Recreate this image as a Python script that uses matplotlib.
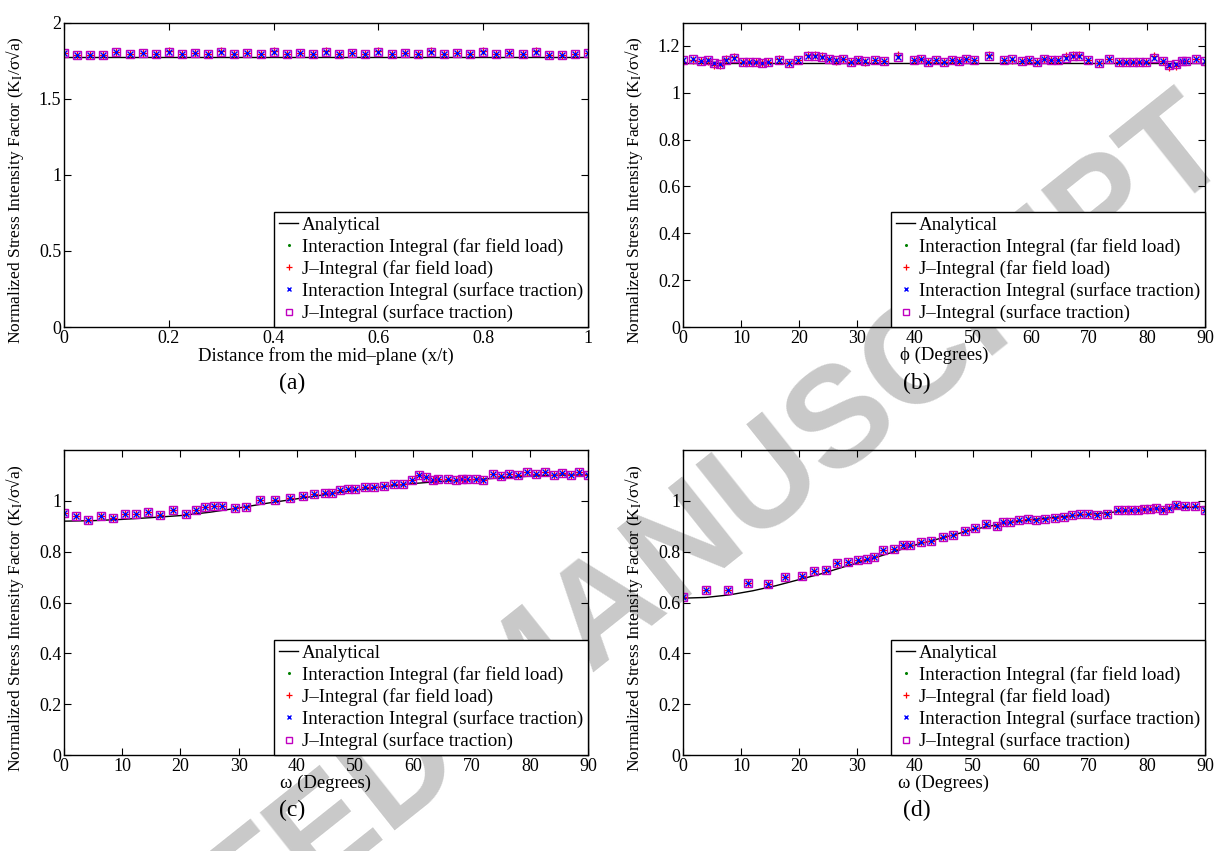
import numpy as np
import matplotlib
matplotlib.use("Agg")
import matplotlib.pyplot as plt

plt.rcParams["font.family"] = ["Liberation Serif", "DejaVu Serif"]
plt.rcParams["mathtext.fontset"] = "stix"
plt.rcParams["axes.unicode_minus"] = False

# ---- (a) K along the crack front, x/t ----
xa = [0.0, 0.025, 0.05, 0.075, 0.1, 0.125, 0.15, 0.175, 0.2, 0.225, 0.25, 0.275, 0.3, 0.325,
      0.35, 0.375, 0.4, 0.425, 0.45, 0.475, 0.5, 0.525, 0.55, 0.575, 0.6, 0.625, 0.65, 0.675,
      0.7, 0.725, 0.75, 0.775, 0.8, 0.825, 0.85, 0.875, 0.9, 0.925, 0.95, 0.975, 1.0]
ka_ii = [1.800, 1.787, 1.785, 1.787, 1.805, 1.794, 1.800, 1.796, 1.805, 1.790, 1.798,
         1.792, 1.807, 1.796, 1.800, 1.796, 1.805, 1.792, 1.800, 1.792, 1.805, 1.796,
         1.798, 1.794, 1.805, 1.792, 1.798, 1.796, 1.805, 1.792, 1.798, 1.792, 1.807,
         1.796, 1.798, 1.796, 1.805, 1.787, 1.785, 1.790, 1.800]
ka_j = [1.802, 1.787, 1.785, 1.787, 1.808, 1.794, 1.800, 1.796, 1.810, 1.790, 1.798,
        1.792, 1.810, 1.796, 1.800, 1.796, 1.810, 1.792, 1.800, 1.792, 1.810, 1.796,
        1.798, 1.794, 1.810, 1.792, 1.798, 1.796, 1.810, 1.792, 1.798, 1.792, 1.810,
        1.796, 1.798, 1.796, 1.810, 1.787, 1.785, 1.790, 1.802]
xa_an = [0.0, 1.0]
ka_an = [1.776, 1.776]

# ---- (b) phi ----
xb = [0, 1.65, 3.15, 4.3, 5.3, 6.3, 7.4, 8.8, 10.3, 11.4, 12.6, 13.7, 14.7, 16.5, 18.2, 19.9,
      21.6, 22.8, 24.0, 25.2, 26.4, 27.6, 28.9, 30.2, 31.4, 33.1, 34.6, 37.0, 39.8, 41.1, 42.3,
      43.7, 45.0, 46.3, 47.6, 48.8, 50.1, 52.8, 55.3, 56.8, 58.4, 59.7, 61.0, 62.2, 63.5, 64.7,
      66.0, 67.2, 68.3, 69.9, 71.7, 73.4, 75.2, 76.4, 77.5, 78.7, 79.8, 81.2, 82.7, 83.8, 85.0,
      86.0, 86.8, 88.4, 90.0]
kb_ii = [1.138, 1.143, 1.136, 1.138, 1.128, 1.123, 1.140, 1.150, 1.130, 1.132, 1.132, 1.129,
         1.130, 1.142, 1.128, 1.139, 1.156, 1.159, 1.153, 1.143, 1.139, 1.143, 1.132, 1.138,
         1.136, 1.142, 1.136, 1.153, 1.139, 1.146, 1.133, 1.142, 1.132, 1.142, 1.135, 1.145,
         1.139, 1.155, 1.138, 1.145, 1.135, 1.139, 1.133, 1.143, 1.138, 1.142, 1.150, 1.157,
         1.155, 1.139, 1.128, 1.143, 1.132, 1.130, 1.131, 1.131, 1.131, 1.150, 1.136, 1.119,
         1.122, 1.136, 1.137, 1.143, 1.136]
kb_j = [1.130, 1.140, 1.136, 1.135, 1.118, 1.120, 1.145, 1.152, 1.130, 1.132, 1.130, 1.129,
        1.130, 1.145, 1.128, 1.139, 1.162, 1.160, 1.155, 1.143, 1.136, 1.143, 1.132, 1.138,
        1.130, 1.142, 1.136, 1.160, 1.139, 1.146, 1.133, 1.142, 1.130, 1.142, 1.135, 1.145,
        1.139, 1.162, 1.138, 1.140, 1.135, 1.139, 1.133, 1.143, 1.138, 1.142, 1.155, 1.162,
        1.160, 1.139, 1.125, 1.143, 1.132, 1.130, 1.131, 1.131, 1.131, 1.155, 1.136, 1.112,
        1.115, 1.136, 1.137, 1.143, 1.128]
xb_an = [0, 90]
kb_an = [1.129, 1.129]

# ---- (c) omega ----
xc = [0, 2.05, 4.2, 6.3, 8.5, 10.4, 12.3, 14.4, 16.5, 18.7, 21.0, 22.6, 24.2, 25.7, 27.2,
      29.3, 31.3, 33.7, 36.3, 38.8, 41.1, 43.0, 44.9, 46.1, 47.4, 48.7, 49.9, 51.7, 53.3,
      55.0, 56.6, 58.3, 59.8, 60.9, 62.1, 63.3, 64.3, 65.9, 67.3, 68.3, 69.3, 70.7, 72.0,
      73.6, 75.1, 76.5, 78.0, 79.5, 81.1, 82.6, 84.1, 85.6, 87.0, 88.4, 90]
kc = [0.953, 0.939, 0.925, 0.939, 0.934, 0.950, 0.949, 0.956, 0.946, 0.965, 0.949, 0.962,
      0.976, 0.979, 0.979, 0.972, 0.977, 1.002, 1.002, 1.012, 1.020, 1.027, 1.029, 1.030,
      1.042, 1.046, 1.046, 1.056, 1.054, 1.059, 1.065, 1.067, 1.082, 1.101, 1.094, 1.081,
      1.085, 1.085, 1.082, 1.086, 1.085, 1.085, 1.082, 1.106, 1.099, 1.105, 1.102, 1.114,
      1.106, 1.112, 1.101, 1.108, 1.103, 1.112, 1.102]
xc_an = [0, 5, 10, 15, 20, 25, 30, 35, 40, 45, 50, 55, 60, 65, 70, 75, 80, 85, 90]
kc_an = [0.920, 0.922, 0.927, 0.934, 0.942, 0.955, 0.972, 0.991, 1.008, 1.025, 1.042,
         1.056, 1.068, 1.077, 1.083, 1.090, 1.097, 1.101, 1.102]

# ---- (d) omega ----
xd = [0, 4.0, 7.8, 11.2, 14.6, 17.6, 20.6, 22.6, 24.6, 26.6, 28.4, 30.1, 31.7, 33.0, 34.5,
      36.3, 37.9, 39.2, 41.0, 42.8, 44.8, 46.6, 48.6, 50.4, 52.3, 54.1, 55.1, 56.3, 58.0,
      59.4, 60.9, 62.4, 64.2, 65.7, 67.0, 68.5, 69.8, 71.3, 73.1, 75.0, 76.2, 77.2, 78.4,
      79.5, 80.6, 81.6, 82.8, 83.8, 85.0, 86.6, 88.3, 90]
kd = [0.620, 0.650, 0.650, 0.676, 0.674, 0.700, 0.704, 0.724, 0.729, 0.755, 0.758, 0.768,
      0.771, 0.779, 0.805, 0.810, 0.826, 0.827, 0.838, 0.843, 0.858, 0.867, 0.882, 0.893,
      0.908, 0.902, 0.918, 0.918, 0.923, 0.928, 0.925, 0.929, 0.933, 0.937, 0.944, 0.948,
      0.949, 0.946, 0.950, 0.962, 0.963, 0.963, 0.963, 0.967, 0.966, 0.970, 0.965, 0.973,
      0.983, 0.979, 0.979, 0.963]
xd_an = [0, 4, 8, 12, 16, 20, 24, 28, 32, 36, 40, 45, 50, 55, 60, 65, 70, 75, 80, 85, 90]
kd_an = [0.617, 0.620, 0.630, 0.646, 0.666, 0.690, 0.714, 0.742, 0.768, 0.797, 0.826,
         0.856, 0.887, 0.910, 0.926, 0.937, 0.947, 0.957, 0.965, 0.972, 0.977]

YLABEL = "Normalized Stress Intensity Factor (K$_\\mathrm{I}$/\u03c3\u221aa)"
LEG = ["Analytical", "Interaction Integral (far field load)", "J\u2013Integral (far field load)",
       "Interaction Integral (surface traction)", "J\u2013Integral (surface traction)"]

W, H = 1223, 851
fig = plt.figure(figsize=(W / 100, H / 100), dpi=100)

# watermark behind everything
fig.text(525 / W, 1 - 680 / H, "ACCEPTED MANUSCRIPT", rotation=38.5, rotation_mode="anchor",
         ha="center", va="center", fontsize=102, fontweight="bold", color="#c9c9c9",
         family=["Liberation Sans", "DejaVu Sans"], zorder=-10)


def panel(px, x, k_ii, k_j, x_an, k_an, xlabel, xlim, ylim, xticks, yticks, cap, cap_xy):
    l, t, r, b = px
    ax = fig.add_axes([l / W, 1 - b / H, (r - l) / W, (b - t) / H])
    ax.patch.set_alpha(0)
    ax.plot(x_an, k_an, "-", color="black", lw=1.0, label=LEG[0])
    ax.plot(x, k_ii, ".", color="#008000", ms=3, label=LEG[1])
    ax.plot(x, k_j, "+", color="red", ms=6, mew=0.9, label=LEG[2])
    ax.plot(x, k_ii, "x", color="blue", ms=4, mew=1.0, label=LEG[3])
    ax.plot(x, k_ii, "s", color="#c000c0", mfc="none", ms=6, mew=1.0, label=LEG[4])
    ax.set_xlim(*xlim)
    ax.set_ylim(*ylim)
    ax.set_xticks(xticks)
    ax.set_yticks(yticks)
    ax.set_xticklabels([f"{v:g}" for v in xticks])
    ax.set_yticklabels([f"{v:g}" for v in yticks])
    ax.tick_params(direction="in", top=True, right=True, length=5, width=0.8,
                   labelsize=13, pad=2)
    for s in ax.spines.values():
        s.set_linewidth(1.0)
    ax.set_xlabel(xlabel, fontsize=13.5, labelpad=0)
    ax.set_ylabel(YLABEL, fontsize=12.5)
    ax.yaxis.set_label_coords(-0.072, 0.45)
    leg = ax.legend(loc="lower right", borderaxespad=0, fontsize=13.7, frameon=True,
                    fancybox=False, edgecolor="black", framealpha=1, handlelength=1.0,
                    handletextpad=0.2, labelspacing=0.22, borderpad=0.25, markerscale=0.8)
    leg.get_frame().set_linewidth(1.0)
    fig.text(cap_xy[0] / W, 1 - cap_xy[1] / H, cap, ha="center", va="center", fontsize=17)
    return ax


panel((64, 22.5, 588, 327), xa, ka_ii, ka_j, xa_an, ka_an,
      "Distance from the mid\u2013plane (x/t)", (0, 1), (0, 2),
      [0, 0.2, 0.4, 0.6, 0.8, 1], [0, 0.5, 1, 1.5, 2], "(a)", (292, 383))
panel((683, 22.5, 1205, 327), xb, kb_ii, kb_j, xb_an, kb_an,
      "\u03d5 (Degrees)", (0, 90), (0, 1.3),
      list(range(0, 91, 10)), [0, 0.2, 0.4, 0.6, 0.8, 1, 1.2], "(b)", (917, 383))
panel((64, 450, 588, 755), xc, kc, kc, xc_an, kc_an,
      "\u03c9 (Degrees)", (0, 90), (0, 1.2),
      list(range(0, 91, 10)), [0, 0.2, 0.4, 0.6, 0.8, 1], "(c)", (292, 810))
panel((683, 450, 1205, 755), xd, kd, kd, xd_an, kd_an,
      "\u03c9 (Degrees)", (0, 90), (0, 1.2),
      list(range(0, 91, 10)), [0, 0.2, 0.4, 0.6, 0.8, 1], "(d)", (917, 810))

fig.savefig("out.png", dpi=100)
